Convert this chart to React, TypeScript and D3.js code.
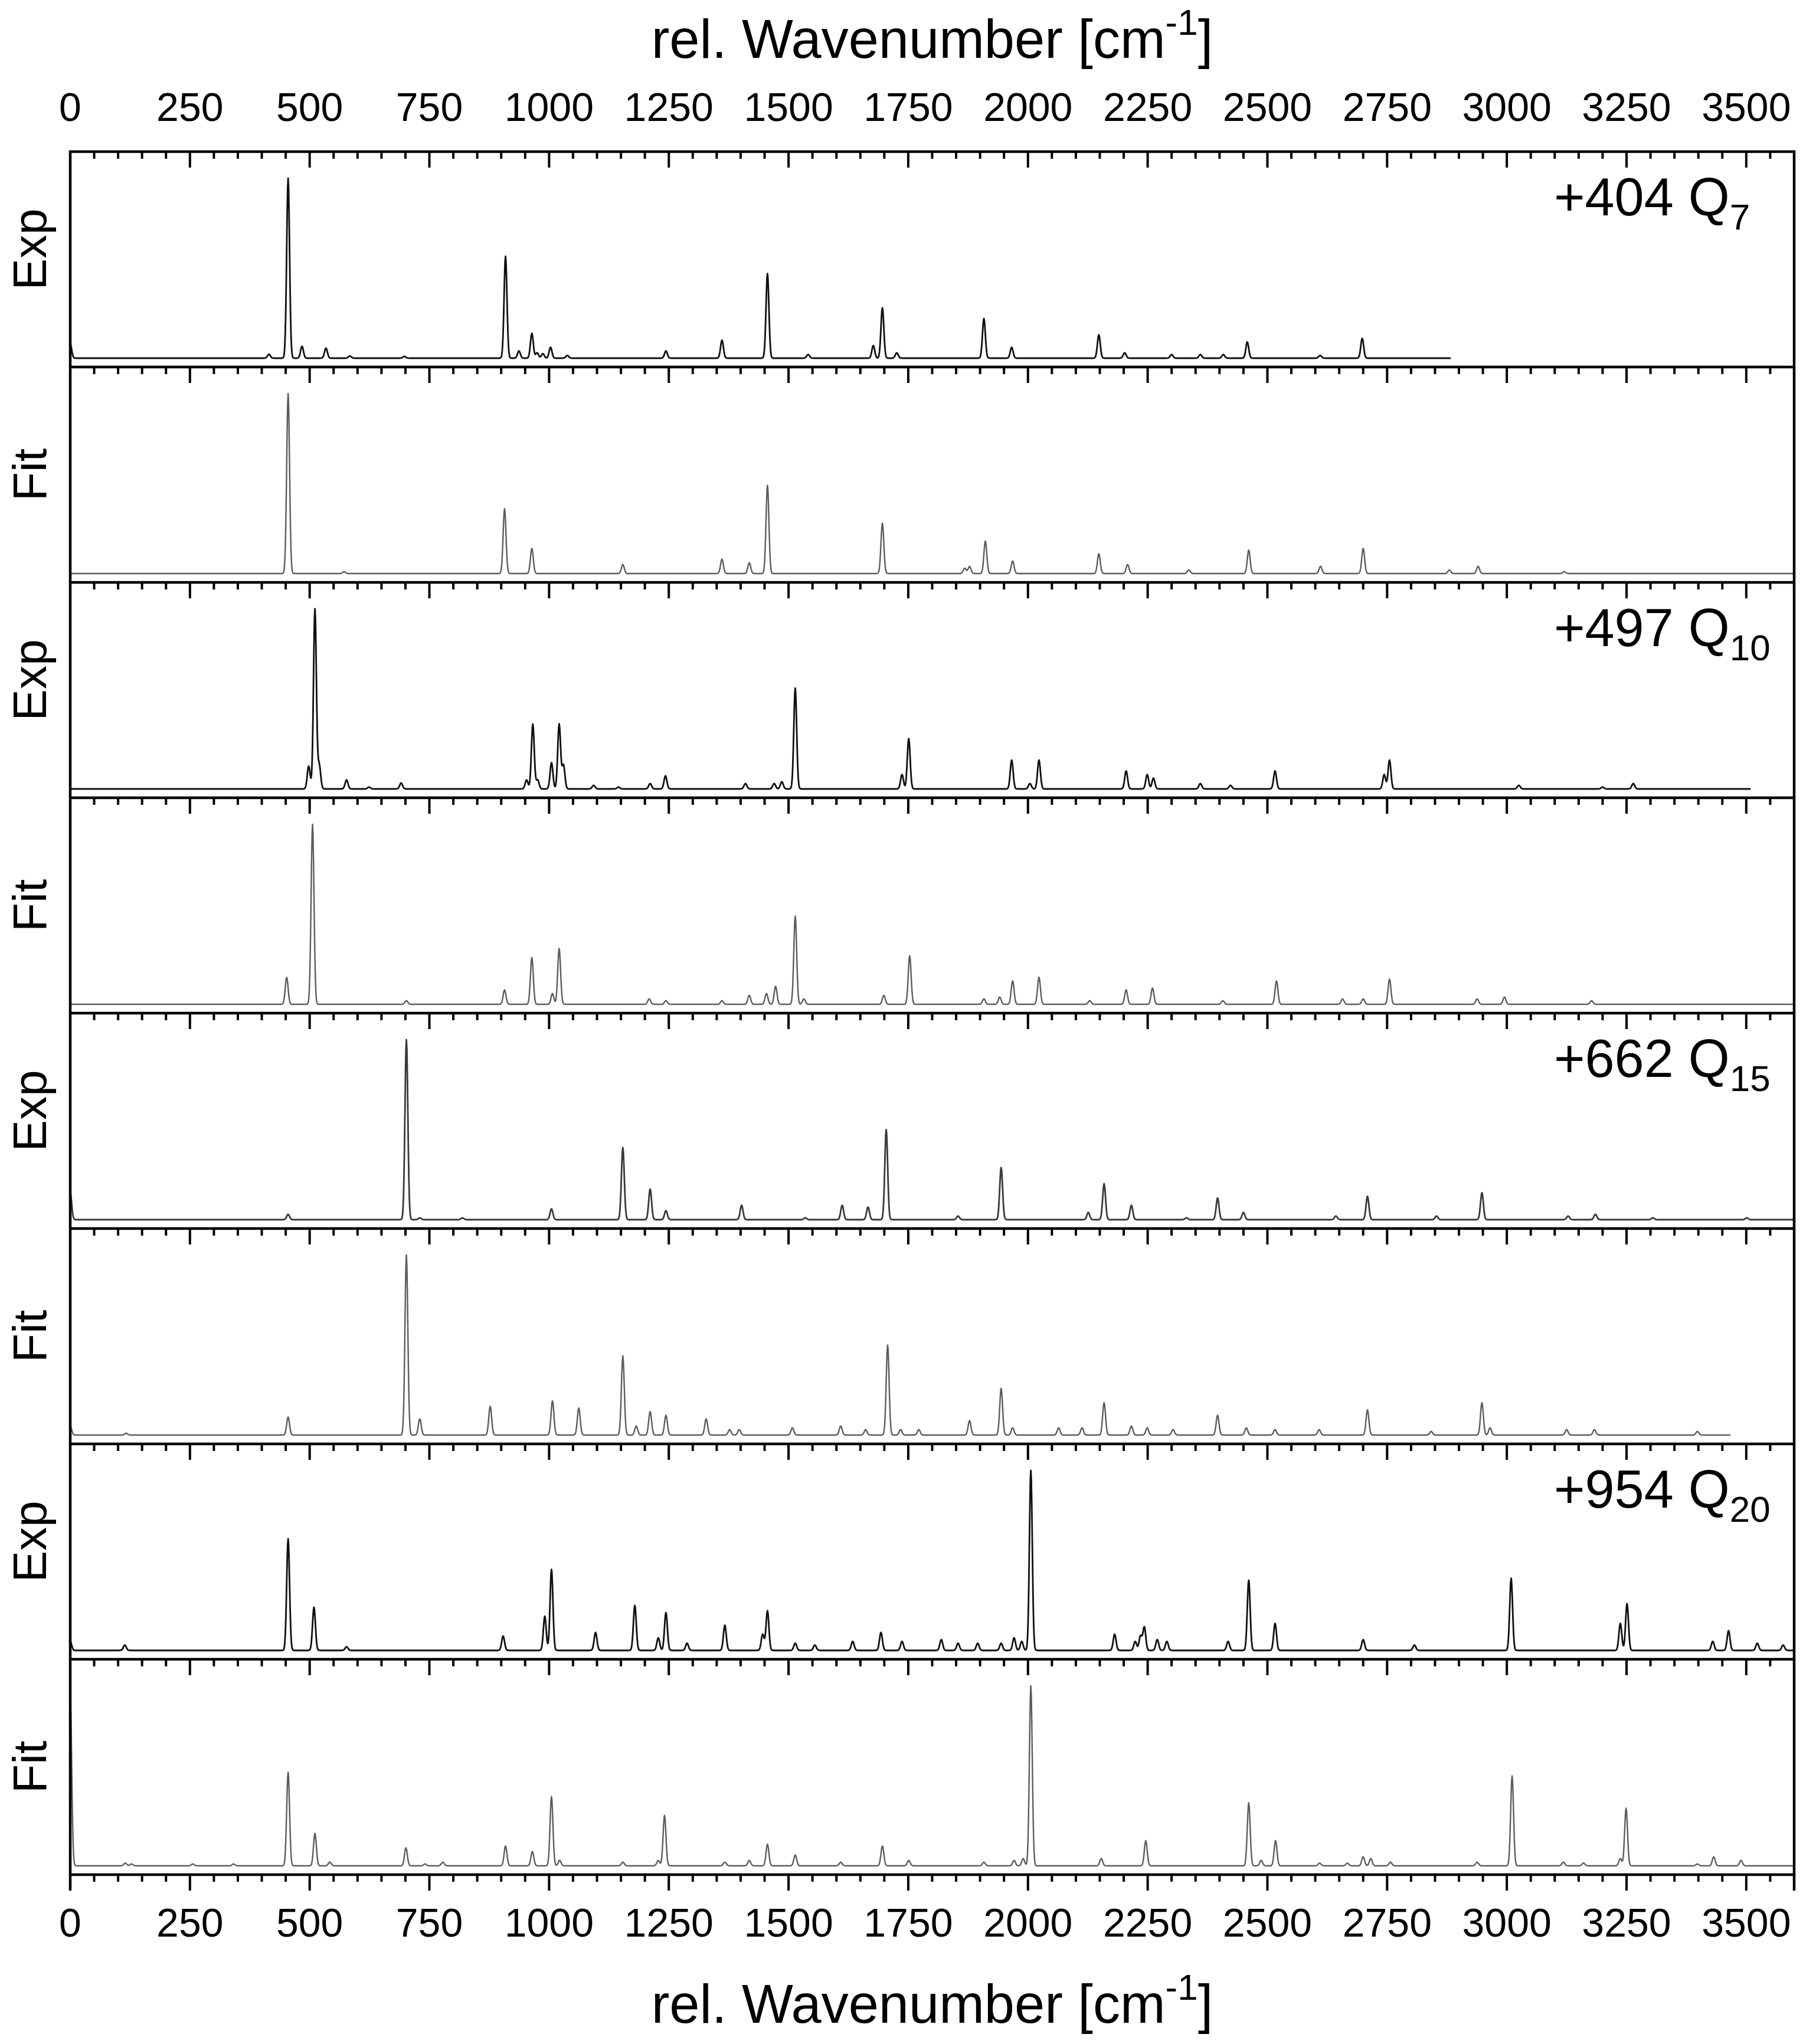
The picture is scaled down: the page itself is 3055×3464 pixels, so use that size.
import React from 'react';
import * as d3 from 'd3';

// ---------- data (peak position [cm-1], relative height) ----------
const panelKinds = ['Exp', 'Fit', 'Exp', 'Fit', 'Exp', 'Fit', 'Exp', 'Fit'];
const labelMains = ['+404 Q', '+497 Q', '+662 Q', '+954 Q'];
const labelSubs = ['7', '10', '15', '20'];
const spectrumEnds = [2883, 3600, 3509, 3600, 3600, 3467, 3600, 3600];
const majorTicks = [0, 250, 500, 750, 1000, 1250, 1500, 1750, 2000, 2250, 2500, 2750, 3000, 3250, 3500];
const minorStep = 50;

const expQ7: [number, number][] = [
  [0, 0.08], [415, 0.022], [455, 1.0], [484, 0.066], [534, 0.056], [584, 0.012], [698, 0.01],
  [909, 0.566], [937, 0.04], [964, 0.138], [975, 0.03], [987, 0.025], [1003, 0.06], [1038, 0.015],
  [1244, 0.04], [1361, 0.1], [1456, 0.47], [1541, 0.02], [1677, 0.07], [1696, 0.28], [1726, 0.03],
  [1908, 0.22], [1966, 0.06], [2148, 0.13], [2202, 0.03], [2300, 0.02], [2360, 0.02], [2408, 0.02],
  [2458, 0.09], [2698, 0.11], [2610, 0.015],
];
const fitQ7: [number, number][] = [
  [455, 1.0], [572, 0.01], [907, 0.36], [964, 0.14], [1154, 0.05], [1361, 0.08], [1418, 0.06],
  [1456, 0.49], [1696, 0.28], [1868, 0.03], [1878, 0.04], [1911, 0.18], [1968, 0.07], [2148, 0.11],
  [2208, 0.05], [2336, 0.02], [2461, 0.13], [2611, 0.04], [2700, 0.14], [2880, 0.02], [2940, 0.04],
  [3120, 0.01],
];
const expQ10: [number, number][] = [
  [498, 0.127], [511, 1.0], [520, 0.133], [577, 0.05], [624, 0.01], [691, 0.033], [953, 0.05],
  [966, 0.36], [976, 0.05], [1005, 0.146], [1021, 0.36], [1030, 0.133], [1093, 0.02], [1145, 0.01],
  [1211, 0.03], [1243, 0.073], [1410, 0.03], [1470, 0.03], [1486, 0.04], [1514, 0.56], [1737, 0.08],
  [1751, 0.28], [1966, 0.16], [2004, 0.03], [2023, 0.16], [2205, 0.1], [2249, 0.08], [2262, 0.06],
  [2360, 0.03], [2423, 0.02], [2516, 0.1], [2744, 0.08], [2755, 0.16], [3025, 0.02], [3200, 0.01],
  [3264, 0.03],
];
const fitQ10: [number, number][] = [
  [452, 0.15], [506, 1.0], [702, 0.02], [907, 0.08], [964, 0.26], [1007, 0.06], [1021, 0.31],
  [1209, 0.03], [1244, 0.02], [1361, 0.02], [1418, 0.05], [1454, 0.06], [1473, 0.1], [1514, 0.49],
  [1532, 0.03], [1699, 0.05], [1753, 0.27], [1908, 0.03], [1941, 0.04], [1968, 0.13], [2023, 0.15],
  [2129, 0.02], [2205, 0.08], [2260, 0.09], [2407, 0.02], [2519, 0.13], [2657, 0.03], [2700, 0.03],
  [2755, 0.14], [2938, 0.03], [2995, 0.04], [3177, 0.02],
];
const expQ15: [number, number][] = [
  [0, 0.15], [455, 0.03], [702, 1.0], [730, 0.01], [819, 0.01], [1005, 0.06], [1154, 0.4],
  [1211, 0.17], [1244, 0.05], [1402, 0.08], [1535, 0.01], [1612, 0.08], [1666, 0.07], [1704, 0.5],
  [1854, 0.02], [1944, 0.29], [2126, 0.04], [2159, 0.2], [2216, 0.08], [2331, 0.01], [2396, 0.12],
  [2450, 0.04], [2643, 0.02], [2709, 0.13], [2853, 0.02], [2948, 0.15], [3128, 0.02], [3185, 0.03],
  [3305, 0.01], [3501, 0.01],
];
const fitQ15: [number, number][] = [
  [0, 0.05], [117, 0.01], [455, 0.1], [702, 1.0], [730, 0.09], [877, 0.16], [1007, 0.19],
  [1062, 0.15], [1154, 0.44], [1182, 0.05], [1211, 0.13], [1244, 0.11], [1328, 0.09], [1377, 0.03],
  [1397, 0.03], [1508, 0.04], [1609, 0.05], [1661, 0.03], [1707, 0.5], [1734, 0.03], [1772, 0.03],
  [1878, 0.08], [1944, 0.26], [1968, 0.04], [2064, 0.04], [2113, 0.04], [2159, 0.18], [2216, 0.05],
  [2249, 0.04], [2303, 0.03], [2396, 0.11], [2456, 0.04], [2516, 0.03], [2608, 0.03], [2709, 0.14],
  [2842, 0.02], [2948, 0.18], [2965, 0.04], [3125, 0.03], [3183, 0.03], [3398, 0.02],
];
const expQ20: [number, number][] = [
  [0, 0.05], [114, 0.03], [455, 0.62], [509, 0.24], [577, 0.02], [904, 0.08], [991, 0.19],
  [1005, 0.45], [1097, 0.1], [1179, 0.25], [1228, 0.07], [1244, 0.21], [1288, 0.04], [1367, 0.14],
  [1446, 0.09], [1456, 0.22], [1514, 0.04], [1555, 0.03], [1634, 0.05], [1693, 0.1], [1737, 0.05],
  [1819, 0.06], [1854, 0.04], [1895, 0.04], [1944, 0.04], [1971, 0.07], [1987, 0.05], [2006, 1.0],
  [2181, 0.09], [2224, 0.05], [2235, 0.08], [2243, 0.13], [2270, 0.06], [2290, 0.05], [2418, 0.05],
  [2461, 0.39], [2516, 0.15], [2700, 0.06], [2807, 0.03], [3009, 0.4], [3237, 0.15], [3251, 0.26],
  [3430, 0.05], [3463, 0.11], [3523, 0.04], [3577, 0.03],
];
const fitQ20: [number, number][] = [
  [0, 0.95], [115, 0.015], [128, 0.01], [256, 0.01], [341, 0.01], [455, 0.52], [511, 0.18],
  [542, 0.02], [701, 0.1], [741, 0.01], [778, 0.02], [909, 0.11], [965, 0.08], [1005, 0.385],
  [1022, 0.03], [1154, 0.02], [1228, 0.03], [1241, 0.28], [1367, 0.02], [1418, 0.03], [1456, 0.12],
  [1514, 0.06], [1609, 0.02], [1696, 0.11], [1751, 0.03], [1908, 0.02], [1971, 0.03], [1990, 0.04],
  [2006, 1.0], [2153, 0.04], [2246, 0.14], [2461, 0.35], [2487, 0.03], [2517, 0.14], [2609, 0.015],
  [2667, 0.015], [2700, 0.05], [2716, 0.04], [2757, 0.02], [2938, 0.02], [3011, 0.5], [3118, 0.02],
  [3160, 0.015], [3237, 0.04], [3249, 0.32], [3398, 0.01], [3432, 0.05], [3489, 0.03],
];
const panelPeaks = [expQ7, fitQ7, expQ10, fitQ10, expQ15, fitQ15, expQ20, fitQ20];
const lineColors = ['#111', '#5c5c5c', '#111', '#5c5c5c', '#3a3a3a', '#5c5c5c', '#111', '#5c5c5c'];

// ---------- layout ----------
const W = 3055;
const H = 3464;
const X0 = 119;
const X1 = 3040;
const TOP = 257;
const BOTTOM = 3177;
const N = 8;
const PH = (BOTTOM - TOP) / N;
const FONT = '"Liberation Sans", Arial, Helvetica, sans-serif';
const SIGMA = 3.0;

function spectrum(peaks: [number, number][], end: number) {
  const pts: [number, number][] = [];
  for (let x = 0; x <= end; x += 1) {
    let y = 0;
    for (const [c, h] of peaks) {
      const d = x - c;
      if (Math.abs(d) < 6 * SIGMA) y += h * Math.exp(-(d * d) / (2 * SIGMA * SIGMA));
    }
    pts.push([x, y]);
  }
  return pts;
}

export default function App() {
  const x = d3.scaleLinear().domain([0, 3600]).range([X0, X1]);
  const minor = d3.range(0, 3600, minorStep).filter((v) => v % 250 !== 0);
  const hLines = d3.range(N + 1).map((i) => TOP + i * PH);

  return (
    <svg width={W} height={H} style={{ position: 'absolute', left: 0, top: 0, background: '#fff' }} fontFamily={FONT}>
      <rect x={0} y={0} width={W} height={H} fill="#fff" />
      {/* spectra */}
      {panelPeaks.map((peaks, i) => {
        const top = TOP + i * PH;
        const y = d3.scaleLinear().domain([0, 1]).range([top + PH - 15, top + 45]);
        const line = d3.line<[number, number]>().x((d) => x(d[0])).y((d) => y(d[1]));
        return (
          <path key={'s' + i} d={line(spectrum(peaks, spectrumEnds[i])) || ''} fill="none"
            stroke={lineColors[i]} strokeWidth={panelKinds[i] === 'Exp' ? 2.8 : 2.4} strokeLinejoin="round" />
        );
      })}
      {/* horizontal axis lines with downward ticks */}
      {hLines.map((yy, i) => (
        <g key={'h' + i}>
          <line x1={X0 - 2} x2={X1 + 2} y1={yy} y2={yy} stroke="#000" strokeWidth={4.5} />
          {majorTicks.map((t) => (
            <line key={'M' + t} x1={x(t)} x2={x(t)} y1={yy} y2={yy + 27} stroke="#000" strokeWidth={4} />
          ))}
          {minor.map((t) => (
            <line key={'m' + t} x1={x(t)} x2={x(t)} y1={yy} y2={yy + 12} stroke="#000" strokeWidth={4} />
          ))}
        </g>
      ))}
      <line x1={X0} x2={X0} y1={TOP - 2} y2={BOTTOM + 27} stroke="#000" strokeWidth={4.5} />
      <line x1={X1} x2={X1} y1={TOP - 2} y2={BOTTOM + 27} stroke="#000" strokeWidth={4.5} />
      {/* tick labels */}
      {majorTicks.map((t) => (
        <text key={'tt' + t} x={x(t)} y={205} fontSize={68} textAnchor="middle" fill="#000">{t}</text>
      ))}
      {majorTicks.map((t) => (
        <text key={'bt' + t} x={x(t)} y={3282} fontSize={68} textAnchor="middle" fill="#000">{t}</text>
      ))}
      {/* axis titles */}
      {[98, 3428].map((by, i) => (
        <text key={'ti' + i} x={(X0 + X1) / 2} y={by} fontSize={92} textAnchor="middle" fill="#000">
          rel. Wavenumber [cm<tspan fontSize={62} dy={-39}>-1</tspan><tspan dy={39}>]</tspan>
        </text>
      ))}
      {/* panel y labels */}
      {panelKinds.map((k, i) => {
        const cy = TOP + i * PH + PH / 2 + (k === 'Exp' ? -17 : 0);
        return (
          <text key={'yl' + i} transform={`translate(78,${cy}) rotate(-90)`} fontSize={80} textAnchor="middle" fill="#000">{k}</text>
        );
      })}
      {/* panel annotations */}
      {labelMains.map((m, j) => {
        const top = TOP + 2 * j * PH;
        return (
          <text key={'lb' + j} x={2633} y={top + 108} fontSize={90} fill="#000">
            {m}<tspan fontSize={62} dy={24}>{labelSubs[j]}</tspan>
          </text>
        );
      })}
    </svg>
  );
}
